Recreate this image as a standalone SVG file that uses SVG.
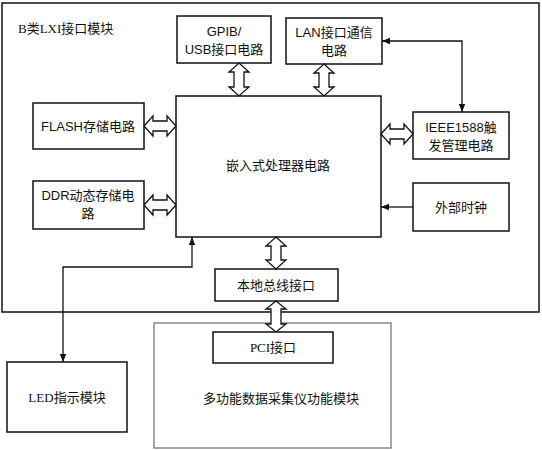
<svg xmlns="http://www.w3.org/2000/svg" width="542" height="450" viewBox="0 0 542 450">
<defs>
<style>
.box{fill:#fff;stroke:#111;stroke-width:1.5}
.grey{fill:#fff;stroke:#777;stroke-width:1.3}
.dbl{fill:#fff;stroke:#111;stroke-width:1.3;stroke-linejoin:miter}
.ln{fill:none;stroke:#111;stroke-width:1.3}
.s{font-family:"Liberation Sans","Noto Sans CJK SC",sans-serif;font-size:13px;fill:#111;text-anchor:middle}
.r{font-family:"Liberation Serif","Noto Sans CJK SC",serif;font-size:13px;fill:#111;text-anchor:middle}
</style>
<marker id="ah" viewBox="0 0 10 10" refX="10" refY="5" markerWidth="8" markerHeight="8" markerUnits="userSpaceOnUse" orient="auto-start-reverse">
<path d="M0,1 L10,5 L0,9 Z" fill="#111"/>
</marker>
</defs>
<rect width="542" height="450" fill="#fff"/>
<g id="lxi">
<rect class="box" x="2" y="3" width="537" height="309"/>
<text class="r" x="18" y="33" style="text-anchor:start">B类LXI接口模块</text>
</g>
<g id="daq">
<rect class="grey" x="154" y="323" width="237" height="125"/>
<text class="r" x="281" y="403">多功能数据采集仪功能模块</text>
</g>
<g id="gpib">
<rect class="box" x="177" y="16" width="94" height="47"/>
<text class="s" x="224" y="36">GPIB/</text>
<text class="s" x="224" y="54">USB接口电路</text>
</g>
<g id="lan">
<rect class="box" x="286" y="18" width="96" height="46"/>
<text class="s" x="334" y="37">LAN接口通信</text>
<text class="s" x="334" y="55">电路</text>
</g>
<g id="cpu">
<rect class="box" x="176" y="96" width="205" height="141"/>
<text class="r" x="278" y="170">嵌入式处理器电路</text>
</g>
<g id="flash">
<rect class="box" x="33" y="103" width="111" height="46"/>
<text class="s" x="88" y="131">FLASH存储电路</text>
</g>
<g id="ddr">
<rect class="box" x="33" y="181" width="111" height="48"/>
<text class="s" x="88" y="200">DDR动态存储电</text>
<text class="s" x="88" y="218">路</text>
</g>
<g id="ieee">
<rect class="box" x="413" y="112" width="96" height="47"/>
<text class="s" x="461" y="132">IEEE1588触</text>
<text class="s" x="461" y="150">发管理电路</text>
</g>
<g id="clk">
<rect class="box" x="413" y="183" width="96" height="48"/>
<text class="r" x="461" y="212">外部时钟</text>
</g>
<g id="localbus">
<rect class="box" x="215" y="269" width="123" height="32"/>
<text class="r" x="276" y="290">本地总线接口</text>
</g>
<g id="pci">
<rect class="box" x="213" y="332" width="120" height="31"/>
<text class="r" x="273" y="352">PCI接口</text>
</g>
<g id="led">
<rect class="box" x="7" y="362" width="120" height="70"/>
<text class="r" x="67" y="402">LED指示模块</text>
</g>
<g id="connectors">
<path class="dbl" d="M239,63 L249,72 L244,72 L244,87 L249,87 L239,96 L229,87 L234,87 L234,72 L229,72 Z"/>
<path class="dbl" d="M324,64 L334,73 L329,73 L329,87 L334,87 L324,96 L314,87 L319,87 L319,73 L314,73 Z"/>
<path class="dbl" d="M144,126 L153,116 L153,121 L167,121 L167,116 L176,126 L167,136 L167,131 L153,131 L153,136 Z"/>
<path class="dbl" d="M144,205 L153,195 L153,200 L167,200 L167,195 L176,205 L167,215 L167,210 L153,210 L153,215 Z"/>
<path class="dbl" d="M381,134 L390,124 L390,129 L404,129 L404,124 L413,134 L404,144 L404,139 L390,139 L390,144 Z"/>
<path class="dbl" d="M276,237 L286,246 L281,246 L281,260 L286,260 L276,269 L266,260 L271,260 L271,246 L266,246 Z"/>
<path class="dbl" d="M276,301 L286,309 L281,309 L281,324 L286,324 L276,332 L266,324 L271,324 L271,309 L266,309 Z"/>
<path class="ln" d="M382,41 L462,41 L462,112" marker-start="url(#ah)" marker-end="url(#ah)"/>
<path class="ln" d="M413,207 L381,207" marker-end="url(#ah)"/>
<path class="ln" d="M192,237 L192,267 L63,267 L63,362" marker-start="url(#ah)" marker-end="url(#ah)"/>
</g>
</svg>
